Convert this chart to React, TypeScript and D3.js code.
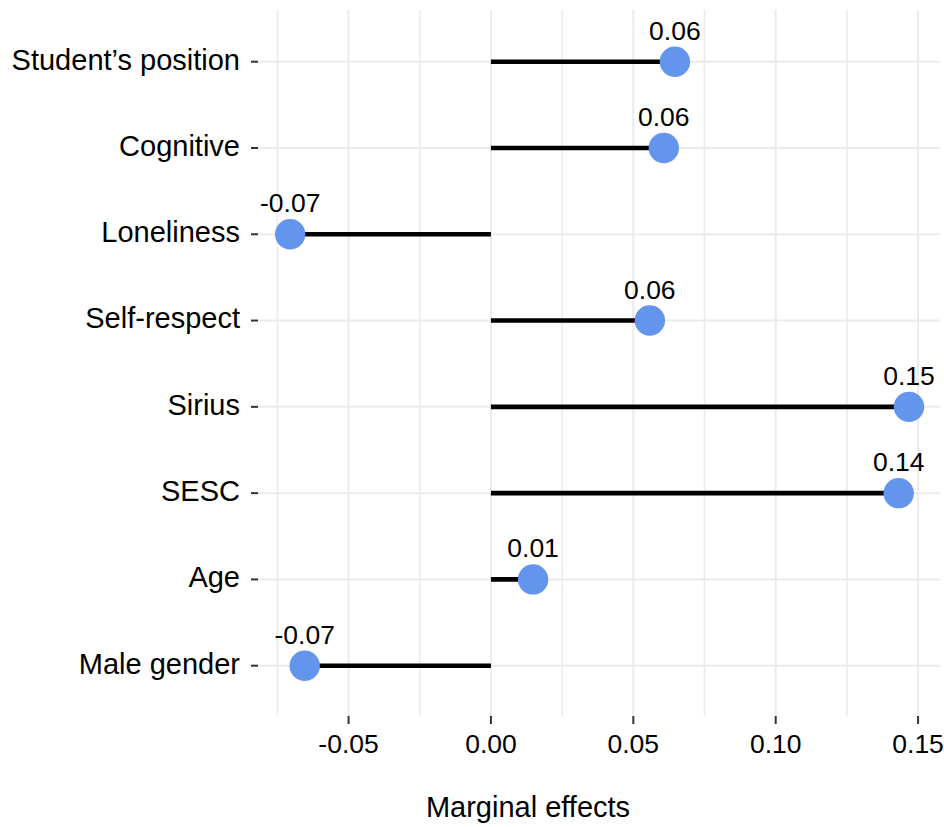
import React from "react";
import * as d3 from "d3";

const categories = [
  "Student’s position",
  "Cognitive",
  "Loneliness",
  "Self-respect",
  "Sirius",
  "SESC",
  "Age",
  "Male gender",
];
const effects = [0.0646, 0.0607, -0.0705, 0.0558, 0.1468, 0.1432, 0.0148, -0.0654];
const xTicks = [-0.05, 0, 0.05, 0.1, 0.15];
const xMinorTicks = [-0.075, -0.025, 0.025, 0.075, 0.125];
const xTitle = "Marginal effects";

const W = 944;
const H = 827;
const FONT = "'Liberation Sans', Arial, sans-serif";

export default function App() {
  const x = d3.scaleLinear().domain([-0.0818, 0.1577]).range([258, 940]);
  const y = d3.scalePoint<string>().domain(categories).range([61.7, 665.7]);
  const top = 10;
  const bottom = 716;
  const [x0, x1] = x.range();
  const grid = "#EBEBEB";

  return (
    <svg
      width={W}
      height={H}
      style={{ position: "absolute", left: 0, top: 0, display: "block", background: "#fff" }}
      fontFamily={FONT}
    >
      {xMinorTicks.map((t) => (
        <line key={"mn" + t} x1={x(t)} x2={x(t)} y1={top} y2={bottom} stroke={grid} strokeWidth={1.6} />
      ))}
      {xTicks.map((t) => (
        <line key={"mj" + t} x1={x(t)} x2={x(t)} y1={top} y2={bottom} stroke={grid} strokeWidth={2} />
      ))}
      {categories.map((c) => (
        <line key={"hg" + c} x1={x0} x2={x1} y1={y(c)} y2={y(c)} stroke={grid} strokeWidth={2} />
      ))}

      {categories.map((c, i) => (
        <line
          key={"seg" + c}
          x1={x(0)}
          x2={x(effects[i])}
          y1={y(c)}
          y2={y(c)}
          stroke="#000"
          strokeWidth={4.6}
        />
      ))}
      {categories.map((c, i) => (
        <circle key={"pt" + c} cx={x(effects[i])} cy={y(c)} r={15.2} fill="#6495ED" />
      ))}
      {categories.map((c, i) => (
        <text
          key={"lab" + c}
          x={x(effects[i])}
          y={(y(c) as number) - 22}
          textAnchor="middle"
          fontSize={26.5}
          fill="#000"
        >
          {effects[i].toFixed(2)}
        </text>
      ))}

      {categories.map((c) => (
        <g key={"ya" + c}>
          <line x1={251} x2={258} y1={y(c)} y2={y(c)} stroke="#333" strokeWidth={2} />
          <text x={240} y={(y(c) as number) + 7.8} textAnchor="end" fontSize={29} fill="#000">
            {c}
          </text>
        </g>
      ))}

      {xTicks.map((t) => (
        <g key={"xa" + t}>
          <line x1={x(t)} x2={x(t)} y1={716} y2={724} stroke="#333" strokeWidth={2} />
          <text x={x(t)} y={752.7} textAnchor="middle" fontSize={26.5} fill="#000">
            {t.toFixed(2)}
          </text>
        </g>
      ))}

      <text x={528} y={817} textAnchor="middle" fontSize={29} fill="#000">
        {xTitle}
      </text>
    </svg>
  );
}
